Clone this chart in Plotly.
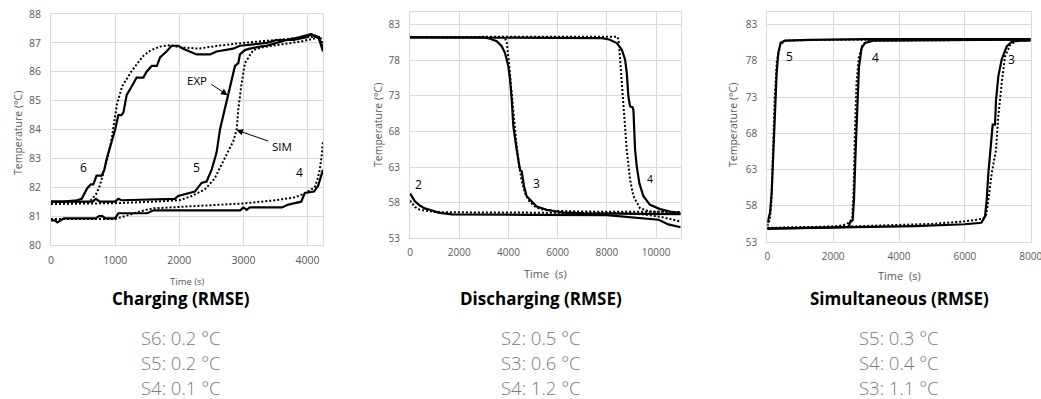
import plotly.graph_objects as go

# ---------------- Charging (time s, temperature °C) ----------------
c6_exp_t = [0, 200, 400, 480, 560, 620, 660, 710, 790, 830, 870, 945, 1000, 1050, 1100, 1130, 1180, 1260,
            1335, 1440, 1490, 1570, 1650, 1700, 1800, 1880, 1985, 2060, 2170, 2270, 2480, 2580, 2840, 2945,
            3360, 3517, 3780, 3985, 4060, 4170, 4240]
c6_exp_T = [81.5, 81.5, 81.55, 81.6, 81.95, 82.1, 82.1, 82.4, 82.4, 82.6, 83.0, 83.6, 84.0, 84.5, 84.5, 84.6,
            85.2, 85.5, 85.8, 85.8, 86.0, 86.2, 86.2, 86.5, 86.7, 86.9, 86.9, 86.8, 86.7, 86.6, 86.6, 86.7,
            86.8, 86.9, 87.0, 87.1, 87.1, 87.2, 87.3, 87.2, 86.7]
c6_sim_t = [0, 300, 600, 700, 760, 820, 880, 940, 990, 1030, 1110, 1250, 1350, 1440, 1560, 1700, 1850, 2000,
            2300, 2600, 3000, 3500, 4000, 4180, 4240]
c6_sim_T = [81.45, 81.45, 81.5, 81.75, 82.05, 82.5, 83.0, 83.6, 84.3, 84.9, 85.5, 86.0, 86.3, 86.55, 86.75,
            86.87, 86.92, 86.85, 86.8, 86.9, 87.0, 87.1, 87.2, 87.2, 86.8]

c5_exp_t = [0, 650, 700, 760, 1000, 1050, 1100, 1930, 1983, 2140, 2243, 2347, 2425, 2503, 2581, 2634, 2738,
            2790, 2842, 2868, 2920, 2945, 3023, 3100, 3257, 3360, 3517, 3673, 3880, 4050, 4180, 4240]
c5_exp_T = [81.5, 81.5, 81.6, 81.5, 81.5, 81.6, 81.55, 81.6, 81.7, 81.8, 81.85, 82.15, 82.2, 82.6, 83.2, 84.0,
            85.0, 85.4, 85.9, 86.2, 86.3, 86.6, 86.75, 86.8, 86.87, 86.9, 87.0, 87.1, 87.2, 87.3, 87.15, 86.8]
c5_sim_t = [0, 1000, 1600, 2000, 2200, 2400, 2550, 2660, 2760, 2842, 2894, 2920, 2971, 3023, 3153, 3300,
            3600, 3900, 4100, 4200, 4240]
c5_sim_T = [81.42, 81.45, 81.5, 81.55, 81.7, 81.93, 82.3, 82.8, 83.2, 83.6, 84.0, 84.7, 85.6, 86.3, 86.75,
            86.85, 86.95, 87.05, 87.15, 87.2, 86.9]

c4_exp_t = [0, 60, 100, 160, 200, 700, 750, 800, 850, 1000, 1050, 1500, 1600, 2950, 3000, 3050, 3100, 3600,
            3700, 3800, 3900, 3956, 4100, 4164, 4200, 4240]
c4_exp_T = [80.85, 80.85, 80.78, 80.85, 80.92, 80.92, 81.0, 81.0, 80.92, 80.92, 81.1, 81.1, 81.2, 81.2, 81.3,
            81.22, 81.3, 81.3, 81.4, 81.45, 81.5, 81.8, 81.85, 82.05, 82.3, 82.6]
c4_sim_t = [0, 1000, 1150, 1300, 1450, 1600, 2000, 2500, 3000, 3500, 3800, 3950, 4050, 4110, 4150, 4190,
            4220, 4240]
c4_sim_T = [80.9, 80.9, 81.0, 81.1, 81.2, 81.27, 81.32, 81.37, 81.44, 81.55, 81.65, 81.78, 81.9, 82.0, 82.25,
            82.6, 83.1, 83.6]

# ---------------- Discharging ----------------
d2_exp_t = [0, 100, 200, 400, 600, 900, 1150, 1700, 3000, 5000, 8000, 8700, 9300, 10100, 10500, 10800, 11000]
d2_exp_T = [59.3, 58.8, 58.2, 57.6, 57.2, 56.9, 56.6, 56.35, 56.3, 56.3, 56.25, 56.0, 55.8, 55.6, 54.95,
            54.65, 54.55]
d2_sim_t = [0, 100, 200, 400, 700, 1000, 1500, 3000, 6000, 8500, 9500, 10200, 10700, 11000]
d2_sim_T = [58.3, 57.9, 57.4, 57.0, 56.8, 56.7, 56.65, 56.65, 56.6, 56.55, 56.35, 56.0, 55.6, 55.35]

d3_exp_t = [0, 3000, 3252, 3523, 3726, 3862, 3997, 4065, 4133, 4200, 4336, 4472, 4539, 4634, 4740, 4946,
            5149, 5556, 6233, 7046, 9000, 11000]
d3_exp_T = [81.2, 81.2, 81.0, 80.65, 79.95, 79.0, 77.1, 75.3, 72.5, 68.7, 65.4, 62.6, 62.4, 60.3, 58.9, 58.2,
            57.45, 57.0, 56.6, 56.5, 56.45, 56.4]
d3_sim_t = [0, 3850, 3930, 3990, 4040, 4100, 4170, 4240, 4320, 4420, 4540, 4680, 4850, 5050, 5300, 5800,
            7000, 11000]
d3_sim_T = [81.25, 81.2, 80.5, 79.0, 77.0, 74.5, 71.8, 69.5, 66.5, 63.5, 61.0, 59.3, 58.2, 57.5, 57.1,
            56.85, 56.75, 56.7]

d4_exp_t = [0, 7500, 7800, 8100, 8400, 8604, 8740, 8808, 8875, 8943, 9040, 9079, 9110, 9146, 9214, 9322,
            9485, 9756, 10163, 10569, 11000]
d4_exp_T = [81.2, 81.2, 81.1, 80.9, 80.4, 79.5, 78.1, 76.2, 72.9, 71.5, 71.4, 71.0, 67.8, 65.4, 63.1, 60.7,
            58.9, 57.7, 57.1, 56.75, 56.5]
d4_sim_t = [0, 8000, 8420, 8480, 8509, 8604, 8699, 8808, 8943, 9079, 9350, 9756, 10500, 11000]
d4_sim_T = [81.25, 81.25, 81.3, 80.8, 79.5, 74.8, 70.1, 65.4, 61.2, 58.9, 57.2, 56.75, 56.7, 56.7]

# ---------------- Simultaneous ----------------
s5_exp_t = [0, 30, 81, 132, 182, 233, 284, 334, 405, 537, 1296, 3000, 8000]
s5_exp_T = [55.6, 56.0, 57.0, 59.7, 65.7, 72.6, 76.3, 79.1, 80.5, 80.8, 80.9, 81.0, 81.0]
s5_sim_t = [0, 70, 120, 175, 225, 290, 400, 550, 1300, 8000]
s5_sim_T = [55.2, 56.0, 58.0, 65.0, 73.0, 78.0, 80.3, 80.8, 80.9, 81.0]

s4_exp_t = [0, 1000, 2000, 2480, 2511, 2592, 2633, 2684, 2734, 2785, 2866, 2967, 3220, 8000]
s4_exp_T = [54.85, 54.9, 55.0, 55.1, 55.7, 56.0, 58.8, 65.7, 72.6, 77.2, 79.8, 80.5, 80.8, 80.95]
s4_sim_t = [0, 1000, 2000, 2300, 2500, 2580, 2620, 2660, 2710, 2780, 2900, 3100, 8000]
s4_sim_T = [54.9, 55.0, 55.15, 55.3, 55.7, 56.3, 60.0, 68.0, 75.0, 78.5, 80.3, 80.8, 80.95]

s3_exp_t = [0, 3000, 4500, 6000, 6500, 6613, 6663, 6714, 6795, 6846, 6916, 6947, 7018, 7119, 7271, 7423,
            7676, 8000]
s3_exp_T = [54.85, 55.1, 55.2, 55.45, 55.65, 56.5, 58.8, 62.5, 66.2, 69.2, 69.2, 72.6, 75.9, 78.2, 80.0,
            80.65, 80.8, 80.8]
s3_sim_t = [0, 2500, 5000, 6000, 6550, 6650, 6714, 6815, 6947, 7018, 7119, 7220, 7372, 7575, 8000]
s3_sim_T = [54.95, 55.15, 55.5, 55.85, 56.2, 56.8, 58.8, 62.5, 65.7, 70.5, 74.9, 78.6, 80.2, 80.8, 80.9]

# Curve labels (text, time, temperature)
charge_labels = [("6", 500, 82.67), ("5", 2274, 82.67), ("4", 3880, 82.5)]
discharge_labels = [("2", 340, 60.6), ("3", 5120, 60.7), ("4", 9760, 61.3)]
simul_labels = [("5", 660, 78.6), ("4", 3290, 78.5), ("3", 7420, 78.2)]

# Axis ticks
charge_xticks = [0, 1000, 2000, 3000, 4000]
discharge_xticks = [0, 2000, 4000, 6000, 8000, 10000]
simul_xticks = [0, 2000, 4000, 6000, 8000]
charge_yticks = [80, 81, 82, 83, 84, 85, 86, 87, 88]
temp_yticks = [53, 58, 63, 68, 73, 78, 83]

panel_titles = ["Charging (RMSE)", "Discharging (RMSE)", "Simultaneous (RMSE)"]
rmse_lines = [["S6: 0.2 °C", "S5: 0.2 °C", "S4: 0.1 °C"],
              ["S2: 0.5 °C", "S3: 0.6 °C", "S4: 1.2 °C"],
              ["S5: 0.3 °C", "S4: 0.4 °C", "S3: 1.1 °C"]]

W, H = 1041, 399
FONT = "Open Sans, Noto Sans, sans-serif"
GRID = "#d9d9d9"
TICK = "#595959"


def px_x(p):
    return p / W


def px_y(p):
    return 1 - p / H


fig = go.Figure()

solid = dict(color="black", width=2.2)
dotted = dict(color="black", width=2, dash="2px,2px")

panels = [
    ("x", "y", [(c6_exp_t, c6_exp_T, c6_sim_t, c6_sim_T),
                (c5_exp_t, c5_exp_T, c5_sim_t, c5_sim_T),
                (c4_exp_t, c4_exp_T, c4_sim_t, c4_sim_T)]),
    ("x2", "y2", [(d2_exp_t, d2_exp_T, d2_sim_t, d2_sim_T),
                  (d3_exp_t, d3_exp_T, d3_sim_t, d3_sim_T),
                  (d4_exp_t, d4_exp_T, d4_sim_t, d4_sim_T)]),
    ("x3", "y3", [(s5_exp_t, s5_exp_T, s5_sim_t, s5_sim_T),
                  (s4_exp_t, s4_exp_T, s4_sim_t, s4_sim_T),
                  (s3_exp_t, s3_exp_T, s3_sim_t, s3_sim_T)]),
]
for xa, ya, series in panels:
    for et, eT, st, sT in series:
        fig.add_trace(go.Scatter(x=st, y=sT, mode="lines", line=dotted, xaxis=xa, yaxis=ya,
                                 showlegend=False, hoverinfo="skip"))
        fig.add_trace(go.Scatter(x=et, y=eT, mode="lines", line=solid, xaxis=xa, yaxis=ya,
                                 showlegend=False, hoverinfo="skip"))

# Plot-area geometry in pixels: (left, right, top, bottom)
geo = [(51, 323, 14, 245), (410, 680.7, 11.7, 238.3), (767.3, 1030.7, 11.7, 242)]
xranges = [[0, 4240], [0, 11000], [0, 8000]]
yranges = [[80, 88], [53, 84.8], [53, 84.8]]
xticks = [charge_xticks, discharge_xticks, simul_xticks]
yticks = [charge_yticks, temp_yticks, temp_yticks]
tick_sizes = [10.5, 10, 10]

axis_common = dict(showgrid=True, gridcolor=GRID, gridwidth=1, zeroline=False, showline=True,
                   linecolor=GRID, linewidth=1, mirror=True, ticks="",
                   ticklabeloverflow="allow", automargin=False)
for i, (l, r, t, b) in enumerate(geo):
    sfx = "" if i == 0 else str(i + 1)
    fig.layout["xaxis" + sfx] = dict(
        axis_common, domain=[px_x(l), px_x(r)], range=xranges[i],
        tickvals=xticks[i], ticktext=[str(v) for v in xticks[i]],
        anchor="y" + sfx, tickfont=dict(family=FONT, size=tick_sizes[i], color=TICK),
        ticklabelstandoff=5)
    fig.layout["yaxis" + sfx] = dict(
        axis_common, domain=[px_y(b), px_y(t)], range=yranges[i],
        tickvals=yticks[i], ticktext=[str(v) for v in yticks[i]],
        anchor="x" + sfx, tickfont=dict(family=FONT, size=tick_sizes[i], color=TICK),
        ticklabelstandoff=7)

annotations = []


def add_text(text, x, y, size, color="black", bold=False, angle=0, xref="paper", yref="paper",
             weight=None):
    font = dict(family=FONT, size=size, color=color)
    if weight is not None:
        font["weight"] = weight
    annotations.append(dict(
        text=f"<b>{text}</b>" if bold else text, x=x, y=y, xref=xref, yref=yref,
        showarrow=False, textangle=angle, xanchor="center", yanchor="middle", font=font))


# Axis titles
for xc, yc in [(18, 133), (378, 125), (733, 125)]:
    add_text("Temperature (°C)", px_x(xc), px_y(yc), 10.5, TICK, angle=-90)
add_text("Time (s)", px_x(187), px_y(281), 9.5, TICK)
add_text("Time&nbsp;&nbsp;(s)", px_x(545), px_y(273), 11, TICK)
add_text("Time&nbsp;&nbsp;(s)", px_x(899), px_y(275), 11, TICK)

# Panel titles and RMSE summaries
for title, lines, xc in zip(panel_titles, rmse_lines, [181, 541, 899]):
    add_text(title, px_x(xc), px_y(298), 17, "black", bold=True)
    for line, yc in zip(lines, [337, 362, 387]):
        add_text(line, px_x(xc), px_y(yc), 18.5, "#7a7a7a", weight=300)

# Curve numbers
for labels, sfx, sizes in [(charge_labels, "", [12, 12, 12]),
                           (discharge_labels, "2", [12, 12, 10.5]),
                           (simul_labels, "3", [12, 12, 12])]:
    for (txt, tx, ty), sz in zip(labels, sizes):
        add_text(txt, tx, ty, sz, "black", xref="x" + sfx, yref="y" + sfx)

# EXP / SIM callouts on the charging panel
add_text("EXP", 2274, 85.68, 11.5, "black", xref="x", yref="y")
add_text("SIM", 3600, 83.4, 11.5, "black", xref="x", yref="y")
for head, tail in [((2752, 85.19), (2477, 85.6)), ((2892, 83.98), (3411, 83.58))]:
    annotations.append(dict(
        x=head[0], y=head[1], ax=tail[0], ay=tail[1], xref="x", yref="y", axref="x", ayref="y",
        text="", showarrow=True, arrowhead=2, arrowsize=1.3, arrowwidth=1, arrowcolor="black"))

fig.update_layout(
    width=W, height=H, margin=dict(l=0, r=0, t=0, b=0),
    paper_bgcolor="white", plot_bgcolor="white",
    annotations=annotations, font=dict(family=FONT),
)

fig.write_html("out.html")
